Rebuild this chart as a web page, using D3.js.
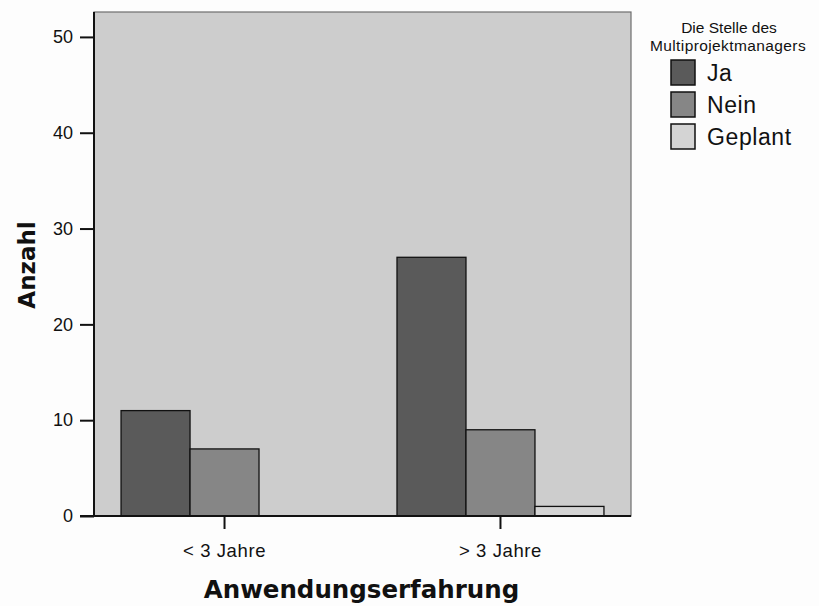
<!DOCTYPE html>
<html>
<head>
<meta charset="utf-8">
<script src="https://cdnjs.cloudflare.com/ajax/libs/d3/7.8.5/d3.min.js"></script>
<style>
  html, body { margin: 0; padding: 0; background: #fdfdfd; }
  svg { display: block; }
</style>
</head>
<body>
<script>
// Anwendungserfahrung vs. Stelle des Multiprojektmanagers
const categories = ["< 3 Jahre", "> 3 Jahre"];
const seriesNames = ["Ja", "Nein", "Geplant"];
const valuesJa = [11, 27];
const valuesNein = [7, 9];
const valuesGeplant = [0, 1];
const yTicks = [0, 10, 20, 30, 40, 50];
const seriesColors = ["#5a5a5a", "#868686", "#d4d4d4"];

const seriesValues = [valuesJa, valuesNein, valuesGeplant];

const W = 819, H = 606;
const plot = { left: 94, right: 631, top: 12, bottom: 516 };

const svg = d3.select("body").append("svg")
  .attr("width", W).attr("height", H);

// plot background
svg.append("rect")
  .attr("x", plot.left).attr("y", plot.top)
  .attr("width", plot.right - plot.left).attr("height", plot.bottom - plot.top)
  .attr("fill", "#cdcdcd")
  .attr("stroke", "#6e6e6e").attr("stroke-width", 1.2);

const x0 = d3.scaleBand()
  .domain(categories)
  .range([plot.left, plot.right])
  .paddingInner(0.25)
  .paddingOuter(0.098);

const x1 = d3.scaleBand()
  .domain(seriesNames)
  .range([0, x0.bandwidth()]);

const y = d3.scaleLinear()
  .domain([0, 52.6])
  .range([plot.bottom, plot.top]);

// bars
const groups = svg.append("g").selectAll("g")
  .data(categories)
  .join("g")
  .attr("transform", d => `translate(${x0(d)},0)`);

groups.selectAll("rect")
  .data((c, i) => seriesNames.map((s, j) => ({ s, j, v: seriesValues[j][i] })).filter(d => d.v > 0))
  .join("rect")
  .attr("x", d => x1(d.s))
  .attr("y", d => y(d.v))
  .attr("width", x1.bandwidth())
  .attr("height", d => y(0) - y(d.v))
  .attr("fill", d => seriesColors[d.j])
  .attr("stroke", "#111")
  .attr("stroke-width", 1.3);

// y axis
const yAxis = svg.append("g")
  .attr("transform", `translate(${plot.left},0)`)
  .call(d3.axisLeft(y).tickValues(yTicks).tickSize(14).tickSizeOuter(0).tickPadding(7));
yAxis.select(".domain").attr("stroke", "#111").attr("stroke-width", 2)
  .attr("d", `M0,${plot.top}V${plot.bottom}`);
yAxis.selectAll(".tick line").attr("stroke", "#111").attr("stroke-width", 2);
yAxis.selectAll(".tick text")
  .attr("font-family", "Liberation Sans, Arial, sans-serif")
  .attr("font-size", 18).attr("fill", "#111");

// x axis
const xAxis = svg.append("g")
  .attr("transform", `translate(0,${plot.bottom})`)
  .call(d3.axisBottom(x0).tickSize(13).tickSizeOuter(0).tickPadding(15));
xAxis.select(".domain").attr("stroke", "#111").attr("stroke-width", 2)
  .attr("d", `M${plot.left - 14},0H${plot.right}`);
xAxis.selectAll(".tick line").attr("stroke", "#111").attr("stroke-width", 2);
xAxis.selectAll(".tick text")
  .attr("font-family", "Liberation Sans, Arial, sans-serif")
  .attr("font-size", 18.5).attr("letter-spacing", "0.6px").attr("fill", "#111");

// axis titles
svg.append("text")
  .attr("x", (plot.left + plot.right) / 2 - 1).attr("y", 598)
  .attr("text-anchor", "middle")
  .attr("font-family", "DejaVu Sans, Verdana, sans-serif")
  .attr("font-weight", "bold").attr("font-size", 24.5).attr("fill", "#111")
  .text("Anwendungserfahrung");

svg.append("text")
  .attr("transform", "translate(35,265) rotate(-90)")
  .attr("text-anchor", "middle")
  .attr("font-family", "DejaVu Sans, Verdana, sans-serif")
  .attr("font-weight", "bold").attr("font-size", 23).attr("fill", "#111")
  .text("Anzahl");

// legend
const legend = svg.append("g");
legend.append("text")
  .attr("x", 729).attr("y", 33)
  .attr("text-anchor", "middle")
  .attr("font-family", "Liberation Sans Narrow, Liberation Sans, Arial, sans-serif")
  .attr("font-size", 15.5).attr("fill", "#111")
  .text("Die Stelle des");
legend.append("text")
  .attr("x", 728).attr("y", 51)
  .attr("text-anchor", "middle")
  .attr("font-family", "Liberation Sans Narrow, Liberation Sans, Arial, sans-serif")
  .attr("font-size", 15.5).attr("letter-spacing", "0.4px").attr("fill", "#111")
  .text("Multiprojektmanagers");

const items = legend.selectAll("g.item")
  .data(seriesNames)
  .join("g").attr("class", "item")
  .attr("transform", (d, i) => `translate(671,${60 + i * 32})`);
items.append("rect")
  .attr("width", 24).attr("height", 25)
  .attr("fill", (d, i) => seriesColors[i])
  .attr("stroke", "#111").attr("stroke-width", 1.5);
items.append("text")
  .attr("x", 36).attr("y", 21)
  .attr("font-family", "Liberation Sans, Arial, sans-serif")
  .attr("font-size", 23).attr("letter-spacing", "0.6px").attr("fill", "#111")
  .text(d => d);
</script>
</body>
</html>
